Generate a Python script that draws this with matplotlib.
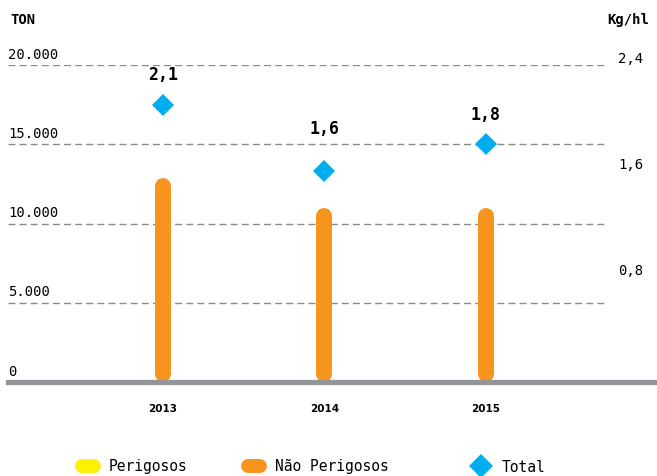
import numpy as np
import matplotlib
matplotlib.use("Agg")
import matplotlib.pyplot as plt
from matplotlib.lines import Line2D

# data
years = ["2013", "2014", "2015"]
perigosos = [150, 120, 130]          # too small to show; hidden behind orange bars
nao_perigosos = [12900, 11000, 11000]
total_kg_hl = [2.1, 1.6, 1.8]

left_ticks = [0, 5000, 10000, 15000, 20000]
right_ticks = [0.8, 1.6, 2.4]

YELLOW = "#FFF200"
ORANGE = "#F7941D"
BLUE = "#00AEEF"
GRID = "#8C8C8C"
BASE = "#939598"
MONO = "DejaVu Sans Mono"

W, H = 657, 476
fig = plt.figure(figsize=(W / 100, H / 100), dpi=100)
ax = fig.add_axes([8 / W, 94 / H, 649 / W, 317 / H])
ax2 = ax.twinx()

x = np.arange(len(years))
ax.set_xlim(-0.96, 3.06)
ax.set_ylim(0, 20000)
ax2.set_ylim(0, 2.4)

for a in (ax, ax2):
    for s in a.spines.values():
        s.set_visible(False)
    a.tick_params(left=False, right=False, labelleft=False, labelright=False)

# grid + baseline
for v in left_ticks[1:]:
    ax.axhline(v, xmax=0.9245, color=GRID, lw=1, dashes=(5, 3), zorder=1)
ax.axhline(0, color=BASE, lw=3.8, zorder=4, clip_on=False)

# rounded bars: pull the ends in by the cap radius
bar_lw = 11.5
ax_h_px = ax.get_position().height * H
r = (bar_lw / 72 * fig.dpi / 2) / ax_h_px * 20000
for xi, p, n in zip(x, perigosos, nao_perigosos):
    ax.plot([xi, xi], [r, max(p - r, r)], color=YELLOW, lw=bar_lw,
            solid_capstyle="round", zorder=2)
    ax.plot([xi, xi], [r, n - r], color=ORANGE, lw=bar_lw,
            solid_capstyle="round", zorder=3)

# total diamonds + labels
ax2.plot(x, total_kg_hl, linestyle="none", marker="D", ms=11.5, mew=0,
         color=BLUE, zorder=5)
label_lift = [21, 30, 21]
for xi, t, dy in zip(x, total_kg_hl, label_lift):
    ax2.annotate(f"{t:.1f}".replace(".", ","), (xi, t), xytext=(0, dy),
                 textcoords="offset points", ha="center", va="center",
                 fontsize=12, fontweight="bold", family=MONO)

# y labels sitting above their values
for v in left_ticks:
    ax.annotate(f"{v:,}".replace(",", "."), (0, v), xytext=(0, 2.5),
                xycoords=("axes fraction", "data"), textcoords="offset points",
                ha="left", va="bottom", fontsize=10, family=MONO)
for v in right_ticks:
    ax2.annotate(f"{v:.1f}".replace(".", ","), ((618 - 8) / 649, v), xytext=(0, 4),
                 xycoords=("axes fraction", "data"), textcoords="offset points",
                 ha="left", va="center", fontsize=10, family=MONO)

# year labels
ax.set_xticks(x)
ax.set_xticklabels(years, fontsize=7.5, fontweight="bold", family="DejaVu Sans")
ax.tick_params(axis="x", length=0, pad=16, labelbottom=True)

fig.text(10 / W, 1 - 20 / H, "TON", fontsize=10, fontweight="bold",
         family=MONO, va="center", ha="left")
fig.text(607 / W, 1 - 20 / H, "Kg/hl", fontsize=10, fontweight="bold",
         family=MONO, va="center", ha="left")

# legend, one entry per slot
entries = [
    (Line2D([], [], color=YELLOW, lw=10, solid_capstyle="round"), "Perigosos", 82),
    (Line2D([], [], color=ORANGE, lw=10, solid_capstyle="round"), "Não Perigosos", 248),
    (Line2D([], [], linestyle="none", marker="D", ms=12.5, mew=0, color=BLUE), "Total", 475),
]
for h, lab, px in entries:
    fig.legend(handles=[h], labels=[lab], loc="center left",
               bbox_to_anchor=(px / W, 1 - 467 / H), frameon=False,
               handlelength=0.8, handletextpad=1.05, borderpad=0, borderaxespad=0,
               prop={"family": MONO, "size": 10.5})

fig.savefig("out.png", dpi=100)
